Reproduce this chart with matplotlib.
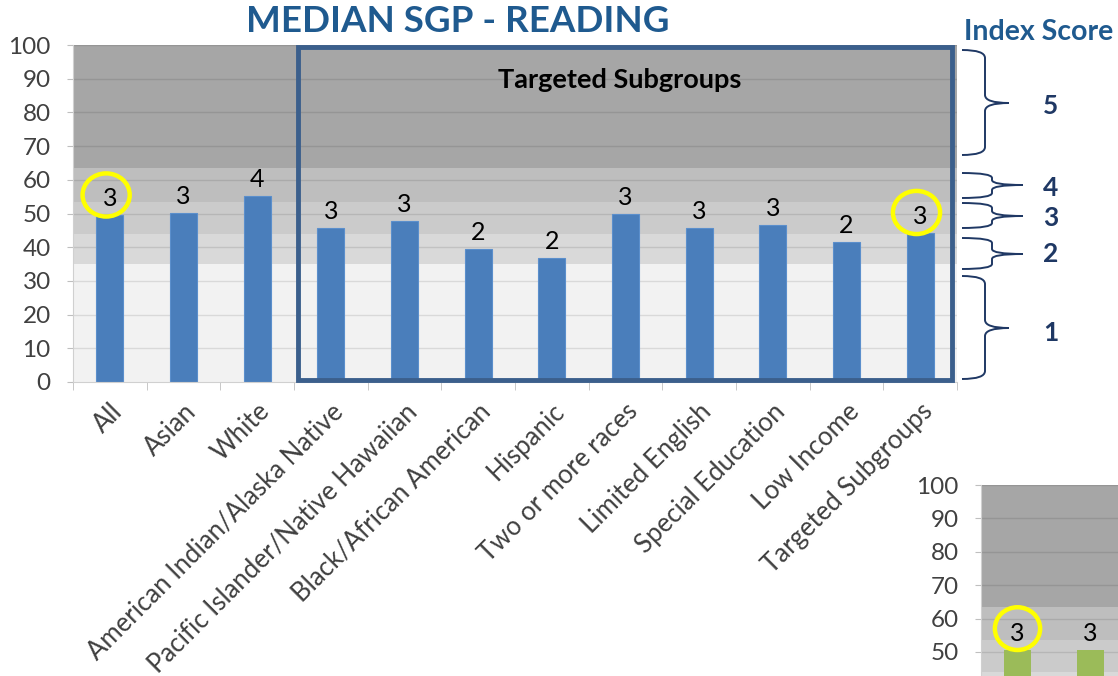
import matplotlib
matplotlib.use("Agg")
import matplotlib.pyplot as plt
from matplotlib.patches import Rectangle, Ellipse, PathPatch
from matplotlib.path import Path
import numpy as np

# donnees
groupes = ["All", "Asian", "White", "American Indian/Alaska Native",
           "Pacific Islander/Native Hawaiian", "Black/African American",
           "Hispanic", "Two or more races", "Limited English",
           "Special Education", "Low Income", "Targeted Subgroups"]
sgp_lecture = [49.5, 50.2, 55.3, 45.6, 47.8, 39.5, 36.7, 49.8, 45.6, 46.6, 41.6, 44.3]
scores_lecture = ["3", "3", "4", "3", "3", "2", "2", "3", "3", "3", "2", "3"]

# deuxieme graphique (coupe en bas a droite)
sgp_maths = [50.5, 50.5]
scores_maths = ["3", "3"]

# bandes de l'index score (bornes en SGP)
bornes = [0, 35, 44, 53.5, 63.5, 100]
couleurs_bandes = ["#f2f2f2", "#d9d9d9", "#cbcbcb", "#bebebe", "#a6a6a6"]
index_labels = ["1", "2", "3", "4", "5"]

bleu_titre = "#1f5a8f"
bleu_fonce = "#1f3864"
gris_txt = "#404040"

plt.rcParams['font.family'] = ['Lato', 'DejaVu Sans']

W, H = 1118, 676
fig = plt.figure(figsize=(W / 100, H / 100), dpi=100)


def faire_axe(gauche, haut_px, bas_px, largeur_px):
    # position en pixels -> coordonnees figure
    return fig.add_axes([gauche / W, (H - bas_px) / H, largeur_px / W, (bas_px - haut_px) / H])


def habiller(ax):
    for i in range(len(bornes) - 1):
        ax.axhspan(bornes[i], bornes[i + 1], color=couleurs_bandes[i], zorder=0, lw=0)
    ax.set_ylim(0, 100)
    ax.set_xlim(-0.5, 11.5)
    ax.set_yticks(range(0, 101, 10))
    for v in range(10, 101, 10):
        ax.axhline(v, color="black", alpha=0.1, lw=1, zorder=1)
    for s in ["top", "right"]:
        ax.spines[s].set_visible(False)
    ax.spines["left"].set_color("#d0d0d0")
    ax.spines["bottom"].set_color("#d0d0d0")
    ax.tick_params(axis="y", colors="#bfbfbf", labelcolor=gris_txt, labelsize=17.5, length=4, pad=12)
    ax.tick_params(axis="x", which="major", length=0, labelcolor=gris_txt, labelsize=18.5, pad=12)
    ax.set_xticks(np.arange(-0.5, 12, 1), minor=True)
    ax.tick_params(axis="x", which="minor", length=6, color="#bfbfbf")


# ---------------------- graphique principal ----------------------
ax = faire_axe(73, 45, 382, 884)
habiller(ax)
x = np.arange(len(groupes))
ax.bar(x, sgp_lecture, width=0.37, color="#4a7ebb", edgecolor="#5b8fcc", lw=0.8, zorder=2)
for i in range(len(x)):
    ax.text(x[i], sgp_lecture[i] + 1.5, scores_lecture[i], ha="center", va="bottom",
            fontsize=18, color="black", zorder=4)
ax.set_xticks(x)
ax.set_xticklabels(groupes, rotation=45, ha="right", rotation_mode="anchor")

# cadre des sous-groupes cibles
ax.add_patch(Rectangle((2.55, 0.6), 8.88, 98.8, fill=False, ec="#3b5f8c", lw=3.5,
                       zorder=5, clip_on=False))
ax.text(6.92, 89.5, "Targeted Subgroups", ha="center", va="center", fontsize=19.5,
        fontweight="bold", color="black", zorder=5)

# cercles jaunes
ax.add_patch(Ellipse((-0.05, 55.5), 0.64, 12.8, fill=False, ec="#ffff00", lw=3.2, zorder=6, clip_on=False))
ax.add_patch(Ellipse((10.95, 50.3), 0.64, 12.8, fill=False, ec="#ffff00", lw=3.2, zorder=6, clip_on=False))

# ---------------------- second graphique (coupe) ----------------------
ax2 = faire_axe(981, 485, 819, 876)
habiller(ax2)
x2 = np.arange(len(sgp_maths))
ax2.bar(x2, sgp_maths, width=0.37, color="#9bbb59", zorder=2)
for i in range(len(x2)):
    ax2.text(x2[i], sgp_maths[i] + 1.5, scores_maths[i], ha="center", va="bottom",
             fontsize=18, color="black", zorder=4)
ax2.set_xticks([])
ax2.add_patch(Ellipse((0, 57), 0.62, 12.8, fill=False, ec="#ffff00", lw=3.2, zorder=6, clip_on=False))

# ---------------------- titres et accolades ----------------------
ov = fig.add_axes([0, 0, 1, 1], zorder=10)
ov.set_xlim(0, W)
ov.set_ylim(H, 0)
ov.axis("off")
ov.patch.set_alpha(0)

ov.text(458, 22, "MEDIAN SGP - READING", ha="center", va="center", fontsize=26.5,
        fontweight="bold", color=bleu_titre)
ov.text(1039, 32, "Index Score", ha="center", va="center", fontsize=20.5,
        fontweight="bold", color=bleu_titre)


def accolade(x0, yt, yb, xs, xt, ym, r):
    for yb_, sgn in [(yt, 1), (yb, -1)]:
        verts = [(x0, yb_), (xs, yb_), (xs, yb_ + sgn * r),
                 (xs, ym - sgn * r), (xs, ym), (xt, ym)]
        codes = [Path.MOVETO, Path.CURVE3, Path.CURVE3, Path.LINETO, Path.CURVE3, Path.CURVE3]
        ov.add_patch(PathPatch(Path(verts, codes), fill=False, ec=bleu_fonce, lw=1.4))


# (haut, bas, tige, pointe, milieu, rayon, y du chiffre)
accolades = [(276, 379, 985, 1009, 328, 8, 333),
             (238, 269, 992, 1023, 254, 5, 254),
             (203, 228, 992, 1023, 216, 5, 218),
             (173, 198, 992, 1023, 185, 5, 188),
             (50, 155, 985, 1009, 103, 8, 106)]
for k, (yt, yb, xs, xt, ym, r, ylab) in enumerate(accolades):
    accolade(962, yt, yb, xs, xt, ym, r)
    ov.text(1051, ylab, index_labels[k], ha="center", va="center", fontsize=19,
            fontweight="bold", color=bleu_fonce)

plt.savefig("out.png", dpi=100)
